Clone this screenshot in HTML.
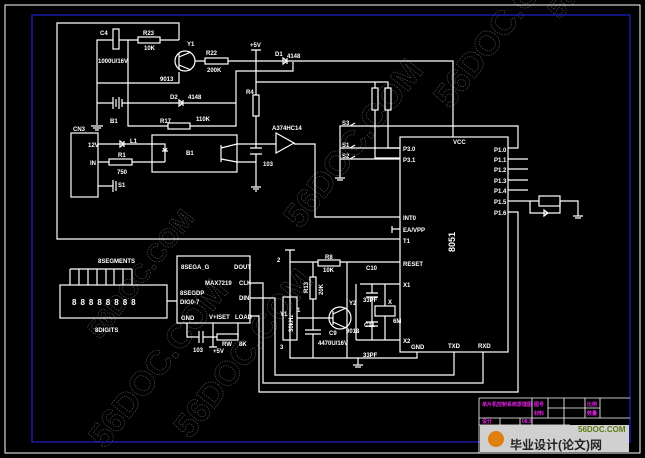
<!DOCTYPE html>
<html><head><meta charset="utf-8"><style>
html,body{margin:0;padding:0;background:#000;}
svg{display:block}
text{font-family:"Liberation Sans",sans-serif;fill:#fff;font-size:6px;font-weight:bold}
.w{stroke:#fff;stroke-width:1.2;fill:none}
.wm{font-family:"Liberation Sans",sans-serif;font-size:34px;fill:none;stroke:#5a5a5a;stroke-width:0.6;stroke-dasharray:1.5 1;font-weight:bold}
.m{fill:#e020e0;font-size:5px}
</style></head><body>
<svg width="645" height="458" viewBox="0 0 645 458" xmlns="http://www.w3.org/2000/svg">
<rect width="645" height="458" fill="#000"/>
<!-- watermarks -->
<text class="wm" transform="translate(105,450) rotate(-52)">56DOC.COM</text>
<text class="wm" transform="translate(190,440) rotate(-52)">56DOC.COM</text>
<text class="wm" transform="translate(300,230) rotate(-52)">56DOC.COM</text>
<text class="wm" transform="translate(450,110) rotate(-52)">56DOC.COM</text>
<text class="wm" transform="translate(100,340) rotate(-52)" style="font-size:26px">56DOC.COM</text>
<text class="wm" transform="translate(560,20) rotate(-52)" style="font-size:26px">56DOC.C</text>
<!-- borders -->
<rect x="5" y="5" width="635" height="448" fill="none" stroke="#fff" stroke-width="1"/>
<rect x="32" y="15" width="598" height="427" fill="none" stroke="#2020d0" stroke-width="1.2"/>
<g class="w">
<path d="M179 40 V23 H57 V239 H400"/>
<path d="M97 125 V40 H113 M119 40 H138 M160 40 H179 M128 40 V126 H168 M190 126 H236 V71 H293 V62"/>
<rect x="113" y="29" width="6" height="20"/>
<rect x="138" y="37" width="22" height="6"/>
<path d="M97 83 H179 V72"/>
<circle cx="185" cy="61" r="10"/>
<path d="M179 53 V70 M179 57 L191 52 M179 65 L191 70 M195 61 H205 M228 61 H453 V137"/>
<rect x="205" y="58" width="23" height="6"/>
<rect x="168" y="123" width="22" height="6"/>
<path d="M97 103 H113 M122 103 H236 M113 97 V109 M116 99 V107 M119 97 V109 M122 99 V107"/>
<path d="M179 100 L183 103 L179 106 Z M183 100 V106"/>
<path d="M91 126 H103 M93 128 H101 M95 130 H99"/>
<path d="M283 58 L287 61 L283 64 Z M287 58 V64"/>
<path d="M251 50 H261 M256 50 V95 M256 116 V148 M256 154 V187 M251 187 H261 M253 189 H259 M255 191 H257"/>
<rect x="253" y="95" width="6" height="21"/>
<path d="M250 148 H262 M250 154 H262"/>
<path d="M256 82 H388 V88 M375 82 V88 M375 110 V158 H400 M388 110 V148 H400"/>
<rect x="372" y="88" width="6" height="22"/>
<rect x="385" y="88" width="6" height="22"/>
<rect x="71" y="133" width="27" height="64"/>
<path d="M98 144 H165 V162 M98 162 H109 M132 162 H165 M98 186 H113 M113 180 V192 M116 181 V191"/>
<path d="M120 141 L124 144 L120 147 Z M124 141 V147"/>
<rect x="109" y="159" width="23" height="6"/>
<rect x="152" y="135" width="85" height="37"/>
<path d="M162 151 H168 M163 148 L165 151 L167 148"/>
<path d="M221 145 V162 M221 148 L237 144 H276 M221 159 L237 162 H256"/>
<path d="M276 133 V153 L294 143 Z M294 144 H315 V217 H400"/>
<path d="M340 178 V126 H518 V148 H508 M340 148 H400 M340 159 H400 M335 178 H345 M337 180 H343"/>
<path d="M350 126 L355 123 M350 148 L355 145 M350 159 L355 156"/>
<rect x="400" y="137" width="108" height="215"/>
<path d="M508 159 H528 M508 169 H528 M508 180 H528 M508 190 H528 M508 201 H530 M508 212 H518 V392 H259 V316 H250"/>
<rect x="539" y="196" width="21" height="10"/>
<path d="M530 201 H539 M560 201 H578 V216 M573 216 H583 M575 218 H581 M530 201 V213 H560 V201 M544 210 L548 213 L544 216 Z"/>
<path d="M392 229 H400 M392 226 V233"/>
<path d="M417 352 V358 H290 V262 H318 M340 262 H400 M483 352 V383 H263 V283 H250 M454 352 V375 H275 V298 H250"/>
<path d="M285 250 H295 M290 250 V262"/>
<rect x="318" y="260" width="22" height="6"/>
<rect x="283" y="297" width="14" height="43"/>
<rect x="310" y="277" width="6" height="22"/>
<path d="M313 262 V277 M313 299 V318 M297 318 H333 M313 318 V330 M305 330 H321 M305 334 H321 M313 334 V358"/>
<circle cx="340" cy="318" r="11"/>
<path d="M333 311 V325 M333 314 L346 308 M333 322 L346 328 M347 262 V358 M358 358 V365 M353 365 H363 M355 367 H361"/>
<path d="M360 284 H400 M372 284 V293 M366 293 H378 M366 297 H378 M372 297 V340 M356 340 H400 M385 284 V306 M385 316 V340 M356 284 V340"/>
<rect x="375" y="306" width="20" height="10"/>
<path d="M366 322 H378 M366 326 H378"/>
<rect x="177" y="256" width="73" height="67"/>
<rect x="60" y="285" width="107" height="33"/>
<path d="M167 301 H177 M70 269 H132 M70 269 V285 M79 269 V285 M88 269 V285 M97 269 V285 M106 269 V285 M114 269 V285 M123 269 V285 M132 269 V285"/>
<path d="M187 323 V337 H199 M203 337 H217 M199 331 V343 M203 331 V343 M213 323 V347 M209 347 H217 M238 323 V337"/>
<rect x="217" y="334" width="21" height="6"/>
<path d="M479 398 H630 M479 398 V453 M479 418 H630 M479 425 H570 M532 398 V425 M548 398 V418 M564 398 V425 M585 398 V418 M600 398 V418 M548 408 H600 M500 418 V425 M520 418 V425" stroke-width="0.8"/>
</g>
<rect x="480" y="425" width="149" height="27" fill="#d0d0d0"/>
<circle cx="496" cy="439" r="8" fill="#e08010"/>
<text x="578" y="432" style="fill:#5a7a10;font-size:8px">56DOC.COM</text>
<text x="510" y="449" style="fill:#222;font-size:12px;font-family:'Liberation Sans','Noto Sans CJK SC',sans-serif">毕业设计(论文)网</text>
<text class="m" x="482" y="406">单片机控制系统原理图</text>
<text class="m" x="534" y="406">图号</text>
<text class="m" x="534" y="415">材料</text>
<text class="m" x="587" y="406">比例</text>
<text class="m" x="587" y="415">数量</text>
<text class="m" x="482" y="423">设计</text>
<text class="m" x="522" y="423">08.9</text>
<text x="100" y="35">C4</text><text x="143" y="35">R23</text><text x="144" y="50">10K</text>
<text x="98" y="63">1000U/16V</text><text x="187" y="46">Y1</text><text x="160" y="81">9013</text>
<text x="206" y="55">R22</text><text x="207" y="72">200K</text>
<text x="250" y="47">+5V</text><text x="275" y="56">D1</text><text x="287" y="58">4148</text>
<text x="170" y="99">D2</text><text x="188" y="99">4148</text><text x="110" y="123">B1</text>
<text x="160" y="123">R17</text><text x="196" y="121">110K</text>
<text x="246" y="94">R4</text><text x="272" y="130">A374HC14</text>
<text x="73" y="131">CN3</text><text x="88" y="147">12V</text><text x="90" y="165">IN</text>
<text x="130" y="143">L1</text><text x="118" y="157">R1</text><text x="117" y="174">750</text>
<text x="186" y="155">B1</text><text x="263" y="166">103</text>
<text x="118" y="187">S1</text>
<text x="342" y="125">S3</text><text x="342" y="147">S1</text><text x="342" y="158">S2</text>
<text x="453" y="144">VCC</text>
<text x="403" y="151">P3.0</text><text x="403" y="162">P3.1</text>
<text x="494" y="152">P1.0</text><text x="494" y="162">P1.1</text><text x="494" y="172">P1.2</text>
<text x="494" y="183">P1.3</text><text x="494" y="193">P1.4</text><text x="494" y="204">P1.5</text><text x="494" y="215">P1.6</text>
<text x="403" y="220">INT0</text><text x="403" y="232">EA/VPP</text><text x="403" y="243">T1</text>
<text x="403" y="266">RESET</text><text x="403" y="287">X1</text><text x="403" y="343">X2</text>
<text x="411" y="349">GND</text><text x="448" y="348">TXD</text><text x="478" y="348">RXD</text>
<text style="font-size:9px" transform="translate(455,252) rotate(-90)">8051</text>
<text x="325" y="259">R8</text><text x="323" y="272">10K</text>
<text x="366" y="270">C10</text><text x="363" y="302">33PF</text><text x="364" y="327">C11</text><text x="363" y="357">33PF</text>
<text x="388" y="304">X</text><text x="393" y="323">6M</text><text x="349" y="305">Y2</text><text x="346" y="333">9018</text>
<text x="329" y="335">C9</text><text x="318" y="345">4470U/16V</text>
<text x="280" y="316">Y1</text><text x="277" y="262">2</text><text x="297" y="312">1</text><text x="280" y="349">3</text>
<text transform="translate(308,293) rotate(-90)">R13</text><text transform="translate(323,295) rotate(-90)">20K</text>
<text transform="translate(293,332) rotate(-90)">30kHz</text>
<text x="98" y="263">8SEGMENTS</text><text x="95" y="332">8DIGITS</text>
<text x="72" y="305" style="font-size:8px;letter-spacing:4px">88888888</text>
<text x="181" y="269">8SEGA_G</text><text x="234" y="269">DOUT</text><text x="205" y="285">MAX7219</text>
<text x="239" y="285">CLK</text><text x="180" y="295">8SEGDP</text><text x="239" y="300">DIN</text>
<text x="180" y="304">DIG0-7</text><text x="181" y="320">GND</text><text x="209" y="319">V+ISET</text><text x="235" y="319">LOAD</text>
<text x="193" y="352">103</text><text x="213" y="353">+5V</text><text x="222" y="346">RW</text><text x="239" y="346">8K</text>
</svg>
</body></html>
